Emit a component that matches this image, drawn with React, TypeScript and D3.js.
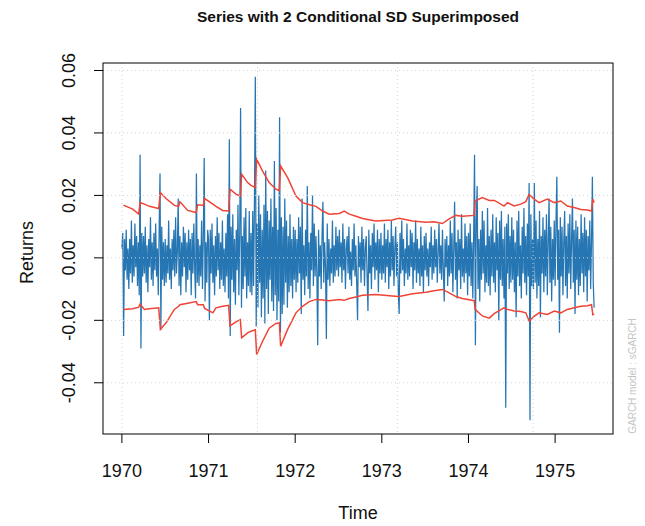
import React from "react";
import * as d3 from "d3";

// ---- data ----
const seriesStart = 1970;
const seriesStep = 1 / 100; // years between samples
// returns in units of 0.001, one row = a quarter of a year
const returnsPermille: number[] = [
  3, 8, -25, 6, -4, 9, -7, 3, -10, 6, -5, 12, -8, 4, -6, 11, -3, 7, -9, 5, -12, 33, -29, 8, -6,
  7, -5, 10, -8, 4, -11, 6, -3, 13, -7, 5, -9, 8, -4, 11, -6, 3, -12, 9, 27, -23, 10, -7, 5, -9,
  6, -8, 4, -5, 12, -7, 3, -10, 6, -4, 9, -6, 13, -5, 2, 19, -9, 7, -12, 5, -6, 10, -3, 8, -11,
  5, -7, 9, -4, 6, -12, 8, -5, 11, -3, -13, 27, -8, 6, -9, 4, -6, 12, -10, 7, 32, -14, 5, -8, 9,
  6, -20, 9, -5, 11, -8, 4, -12, 7, -6, 13, -4, 8, -10, 5, -7, 12, -9, 3, -11, 8, -6, 14, -13, 38,
  -25, 10, -7, 14, -11, 6, -15, 9, -4, 17, -12, 8, 48, -16, 7, -10, 13, -6, 16, -13, 5, -9, 15, -11, 8,
  -12, 15, -9, 18, 58, -22, 11, -16, 20, -8, 14, -19, 9, -13, 17, -21, 28, -10, 15, -18, 12, -7, 19, -14, 10,
  -17, 31, -12, 16, -20, 9, -14, 45, -24, 13, -18, 10, -15, 19, -8, 12, -16, 7, -11, 14, -9, 6, -13, 10, -7,
  9, -11, 6, -8, 13, -5, 10, -18, 19, -7, 4, -12, 9, -6, 23, -10, 5, -13, 8, -4, 20, -9, 11, -6, 7,
  -5, -28, 9, -6, 4, -10, 7, 18, -8, 5, -3, -26, 11, -7, 6, -9, 3, -5, 12, -8, 4, -6, 10, -4, 7,
  -6, 9, -3, 5, -8, 11, -4, 6, -10, 3, 7, -5, 10, -7, 2, -9, 6, -4, 11, -6, 4, -8, -20, 7, -3,
  5, -8, 10, -4, 6, -9, 3, 7, -6, -17, 9, -5, 4, -10, 8, -3, 11, -7, 5, -4, 9, -11, 6, -5, 8,
  -7, 4, -5, 11, -8, 6, -3, 9, -10, 5, -6, 12, -4, 7, -9, 3, 10, -6, 5, -11, -18, 8, -5, 12, -4,
  6, -9, 3, -5, 11, -7, 4, -6, 9, -3, 8, -10, 5, -4, 12, -8, 6, -5, 3, -9, 10, -6, 4, -11, 7,
  -4, 8, -6, 3, -9, 5, -3, 10, -7, 4, -5, 9, -3, 6, -8, 2, 11, -5, 4, -7, 9, -4, -14, 6, -3,
  7, -9, 4, -6, 12, -5, 8, -11, 3, 18, -7, 5, -13, 9, -4, 6, -10, 14, -6, 3, -8, 11, -5, 7, -12,
  8, -6, 11, -9, 5, -13, 7, 33, -28, 12, 23, -10, 6, -14, 9, -7, 15, -5, 12, -11, 4, -8, 16, -9, 7,
  -12, 9, -6, 14, -8, 5, -11, 13, -4, 8, -20, 12, -7, 15, -9, 6, -13, 10, -48, 11, -5, 14, -10, 7, -8,
  13, -7, 9, -11, 5, -19, 12, -6, 15, -9, 4, -13, 10, -5, 16, -8, 7, -12, 11, -6, 24, -52, 14, -9, 6,
  -10, 24, -8, 12, -13, 6, -9, 15, -19, 7, -5, 13, -11, 9, -6, 14, -12, 5, 19, -8, 10, -14, 6, -7, 12,
  -9, 11, 26, -7, 9, -24, 13, -6, 10, -12, 5, 15, -9, 7, -13, 11, -5, 14, -10, 6, 19, -8, 9, -18, 12,
  -7, 10, -12, 6, -9, 14, -5, 8, -11, 13, -6, 9, -14, 7, -4, 12, -10, 5, 26, -8, -16,
];

const bandTimes: number[] = [
  1970.017, 1970.125, 1970.194, 1970.21, 1970.26, 1970.317, 1970.425, 1970.444, 1970.51, 1970.605,
  1970.655, 1970.67, 1970.76, 1970.856, 1970.875, 1970.94, 1970.955, 1971.05, 1971.086, 1971.163,
  1971.232, 1971.248, 1971.317, 1971.367, 1971.382, 1971.451, 1971.49, 1971.54, 1971.555, 1971.624,
  1971.7, 1971.778, 1971.817, 1971.832, 1971.913, 1972.009, 1972.085, 1972.163, 1972.24, 1972.316,
  1972.393, 1972.509, 1972.566, 1972.624, 1972.7, 1972.777, 1972.93, 1973.12, 1973.2, 1973.354,
  1973.51, 1973.6, 1973.7, 1973.777, 1973.855, 1973.93, 1974.066, 1974.077, 1974.16, 1974.24,
  1974.3, 1974.41, 1974.45, 1974.527, 1974.604, 1974.662, 1974.7, 1974.758, 1974.815, 1974.91,
  1974.99, 1975.066, 1975.14, 1975.22, 1975.296, 1975.373, 1975.42, 1975.435, 1975.45,
];
const bandUpper: number[] = [
  0.0169, 0.0156, 0.014, 0.0177, 0.0172, 0.0165, 0.0158, 0.0209, 0.019, 0.0168,
  0.0165, 0.018, 0.0152, 0.0145, 0.017, 0.0168, 0.019, 0.0172, 0.0165, 0.0152,
  0.015, 0.022, 0.0204, 0.0198, 0.0268, 0.0241, 0.0232, 0.0225, 0.0316, 0.0278,
  0.0241, 0.022, 0.0215, 0.0294, 0.0257, 0.0198, 0.0177, 0.017, 0.0165, 0.015,
  0.014, 0.0142, 0.015, 0.014, 0.0133, 0.0126, 0.0118, 0.0121, 0.0127, 0.0118,
  0.0114, 0.0116, 0.011, 0.0125, 0.0136, 0.0133, 0.0136, 0.0182, 0.0193, 0.0184,
  0.0184, 0.0166, 0.0177, 0.0166, 0.0172, 0.018, 0.0203, 0.0188, 0.0177, 0.0188,
  0.0177, 0.0182, 0.0166, 0.0161, 0.0155, 0.0153, 0.015, 0.0188, 0.0177,
];
const bandLower: number[] = [
  -0.0165, -0.0163, -0.0158, -0.0148, -0.0165, -0.0163, -0.016, -0.0229, -0.0208, -0.0165,
  -0.0155, -0.015, -0.0145, -0.014, -0.015, -0.015, -0.0162, -0.0176, -0.016, -0.0155,
  -0.0152, -0.0218, -0.0205, -0.0198, -0.0256, -0.024, -0.0235, -0.023, -0.0309, -0.0267,
  -0.0225, -0.021, -0.0208, -0.0283, -0.0229, -0.0176, -0.0155, -0.014, -0.0133, -0.0135,
  -0.0137, -0.0133, -0.0136, -0.013, -0.0125, -0.012, -0.0117, -0.0122, -0.0124, -0.0115,
  -0.011, -0.0105, -0.0101, -0.0112, -0.0124, -0.013, -0.0137, -0.0165, -0.0186, -0.0193,
  -0.0178, -0.016, -0.0165, -0.017, -0.0172, -0.0176, -0.0202, -0.0187, -0.0176, -0.0181,
  -0.017, -0.0176, -0.0165, -0.016, -0.0155, -0.0153, -0.015, -0.0182, -0.018,
];

const xTicks: number[] = [1970, 1971, 1972, 1973, 1974, 1975];
const yTicks: number[] = [-0.04, -0.02, 0, 0.02, 0.04, 0.06];
const xGrid: number[] = [1970, 1971.565, 1973.18, 1974.745];

const titleText = "Series with 2 Conditional SD Superimposed";
const xLabel = "Time";
const yLabel = "Returns";
const watermark = "GARCH model : sGARCH";

// ---- layout ----
const W = 645;
const H = 526;
const plot = { left: 103, right: 613, top: 63, bottom: 434 };
const FONT = "'Liberation Sans', Arial, sans-serif";

export default function App() {
  const series = returnsPermille.map((v, i) => ({
    t: seriesStart + i * seriesStep,
    v: v / 1000,
  }));
  const tExt = d3.extent(series, (d) => d.t) as [number, number];
  const vExt = d3.extent(series, (d) => d.v) as [number, number];
  const tPad = (tExt[1] - tExt[0]) * 0.04;
  const vPad = (vExt[1] - vExt[0]) * 0.04;

  const x = d3
    .scaleLinear()
    .domain([tExt[0] - tPad, tExt[1] + tPad])
    .range([plot.left, plot.right]);
  const y = d3
    .scaleLinear()
    .domain([vExt[0] - vPad, vExt[1] + vPad])
    .range([plot.bottom, plot.top]);

  const line = d3
    .line<{ t: number; v: number }>()
    .x((d) => x(d.t))
    .y((d) => y(d.v));

  const upper = bandTimes.map((t, i) => ({ t, v: bandUpper[i] }));
  const lower = bandTimes.map((t, i) => ({ t, v: bandLower[i] }));

  const cx = (plot.left + plot.right) / 2;
  const cy = (plot.top + plot.bottom) / 2;

  return (
    <svg
      width={W}
      height={H}
      style={{ position: "absolute", left: 0, top: 0, background: "#fff" }}
      fontFamily={FONT}
    >
      <rect x={0} y={0} width={W} height={H} fill="#fff" />
      <defs>
        <clipPath id="plotclip">
          <rect
            x={plot.left}
            y={plot.top}
            width={plot.right - plot.left}
            height={plot.bottom - plot.top}
          />
        </clipPath>
      </defs>

      <g clipPath="url(#plotclip)">
        <path d={line(series) || ""} fill="none" stroke="#2676b3" strokeWidth={1.25} />
        <path d={line(upper) || ""} fill="none" stroke="#ef4436" strokeWidth={1.5} />
        <path d={line(lower) || ""} fill="none" stroke="#ef4436" strokeWidth={1.5} />
        {/* grid */}
        {yTicks.map((v) => (
          <line
            key={"hg" + v}
            x1={plot.left}
            x2={plot.right}
            y1={y(v)}
            y2={y(v)}
            stroke="#d3d3d3"
            strokeWidth={1}
            strokeDasharray="1 3"
          />
        ))}
        {xGrid.map((t) => (
          <line
            key={"vg" + t}
            x1={x(t)}
            x2={x(t)}
            y1={plot.top}
            y2={plot.bottom}
            stroke="#d3d3d3"
            strokeWidth={1}
            strokeDasharray="1 3"
          />
        ))}
      </g>

      {/* box */}
      <rect
        x={plot.left}
        y={plot.top}
        width={plot.right - plot.left}
        height={plot.bottom - plot.top}
        fill="none"
        stroke="#000"
        strokeWidth={1}
      />

      {/* y axis */}
      {yTicks.map((v) => (
        <g key={"yt" + v}>
          <line x1={plot.left - 9} x2={plot.left} y1={y(v)} y2={y(v)} stroke="#000" />
          <text
            transform={`translate(${plot.left - 28},${y(v)}) rotate(-90)`}
            textAnchor="middle"
            fontSize={18}
            fill="#111"
          >
            {v.toFixed(2)}
          </text>
        </g>
      ))}

      {/* x axis */}
      {xTicks.map((t) => (
        <g key={"xt" + t}>
          <line x1={x(t)} x2={x(t)} y1={plot.bottom} y2={plot.bottom + 9} stroke="#000" />
          <text x={x(t)} y={plot.bottom + 43} textAnchor="middle" fontSize={18} fill="#111">
            {t}
          </text>
        </g>
      ))}

      <text x={cx} y={H - 7} textAnchor="middle" fontSize={18} fill="#111">
        {xLabel}
      </text>
      <text
        transform={`translate(33,${cy + 4}) rotate(-90)`}
        textAnchor="middle"
        fontSize={18}
        fill="#111"
      >
        {yLabel}
      </text>
      <text x={cx} y={22} textAnchor="middle" fontSize={15.5} fontWeight="bold" fill="#111">
        {titleText}
      </text>
      <text
        transform={`translate(636,${plot.bottom - 58}) rotate(-90)`}
        textAnchor="middle"
        fontSize={10}
        fill="#c4c4c4"
      >
        {watermark}
      </text>
    </svg>
  );
}
